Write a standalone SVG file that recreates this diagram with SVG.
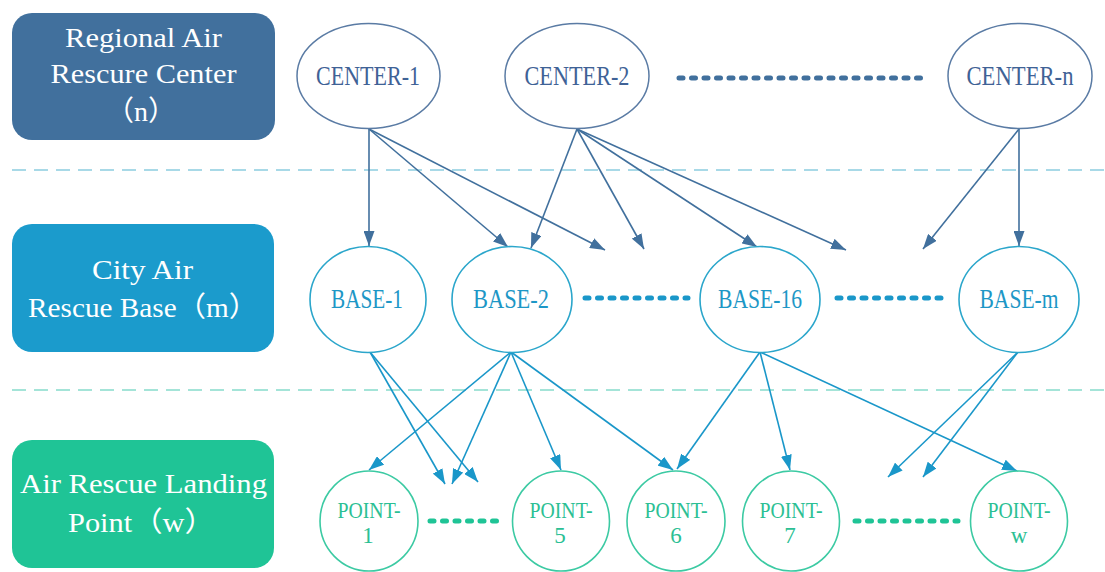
<svg xmlns="http://www.w3.org/2000/svg" width="1105" height="572" viewBox="0 0 1105 572">
  <style>
    text { font-family: "Liberation Serif", "Noto Sans CJK SC", serif; text-anchor: middle; }
    .tier-label { fill: #ffffff; font-size: 28px; }
    .sep-top { stroke: #8ccde0; stroke-width: 1.5; stroke-dasharray: 14 8; fill: none; }
    .sep-bot { stroke: #86dccb; stroke-width: 1.5; stroke-dasharray: 14 8; fill: none; }
    .center ellipse { fill: #ffffff; stroke: #5a7ba4; stroke-width: 1.5; }
    .center text { fill: #3f6296; font-size: 27px; }
    .base ellipse { fill: #ffffff; stroke: #2ba6cb; stroke-width: 1.6; }
    .base text { fill: #1d97c6; font-size: 27px; }
    .point ellipse { fill: #ffffff; stroke: #3ccaa3; stroke-width: 1.6; }
    .point text { fill: #2cbf94; font-size: 23px; }
    .link-top { stroke: #41709d; stroke-width: 1.6; fill: none; marker-end: url(#arrow-top); }
    .link-bot { stroke: #1a97c9; stroke-width: 1.6; fill: none; marker-end: url(#arrow-bot); }
    .dots { stroke-width: 5; stroke-linecap: round; stroke-dasharray: 4 8.5; fill: none; }
  </style>
  <defs>
    <marker id="arrow-top" viewBox="0 0 15 11" refX="15" refY="5.5" markerWidth="15" markerHeight="11" markerUnits="userSpaceOnUse" orient="auto">
      <path d="M0,0 L15,5.5 L0,11 z" fill="#41709d"/>
    </marker>
    <marker id="arrow-bot" viewBox="0 0 15 11" refX="15" refY="5.5" markerWidth="15" markerHeight="11" markerUnits="userSpaceOnUse" orient="auto">
      <path d="M0,0 L15,5.5 L0,11 z" fill="#1a97c9"/>
    </marker>
  </defs>

  <!-- tier separators -->
  <g id="separators">
    <line class="sep-top" x1="12" y1="170" x2="1105" y2="170"/>
    <line class="sep-bot" x1="12" y1="390" x2="1105" y2="390"/>
  </g>

  <!-- tier labels -->
  <g id="tier-center">
    <rect x="12" y="13" width="263" height="127" rx="20" fill="#41709d"/>
    <text class="tier-label" x="143.5" y="47" textLength="157" lengthAdjust="spacingAndGlyphs">Regional Air</text>
    <text class="tier-label" x="143.5" y="83" textLength="186" lengthAdjust="spacingAndGlyphs">Rescure Center</text>
    <text class="tier-label" x="141" y="121">（n）</text>
  </g>
  <g id="tier-base">
    <rect x="12" y="224" width="262" height="128" rx="20" fill="#1b9bcc"/>
    <text class="tier-label" x="142.5" y="279" textLength="101" lengthAdjust="spacingAndGlyphs">City Air</text>
    <text class="tier-label" x="143" y="317" textLength="230" lengthAdjust="spacingAndGlyphs">Rescue Base（m）</text>
  </g>
  <g id="tier-point">
    <rect x="12" y="440" width="262" height="128" rx="20" fill="#1fc496"/>
    <text class="tier-label" x="143.5" y="493" textLength="247" lengthAdjust="spacingAndGlyphs">Air Rescue Landing</text>
    <text class="tier-label" x="141.5" y="532" textLength="147" lengthAdjust="spacingAndGlyphs">Point（w）</text>
  </g>

  <!-- continuation dots -->
  <g id="ellipsis">
    <line class="dots" stroke="#41709d" x1="679" y1="78" x2="922" y2="78"/>
    <line class="dots" stroke="#1a97c9" x1="585" y1="298" x2="688" y2="298"/>
    <line class="dots" stroke="#1a97c9" x1="837" y1="298" x2="948" y2="298"/>
    <line class="dots" stroke="#1fc496" x1="430" y1="521" x2="503" y2="521"/>
    <line class="dots" stroke="#1fc496" x1="855" y1="521" x2="958" y2="521"/>
  </g>

  <!-- connectors -->
  <g id="connectors">
    <line class="link-top" x1="369" y1="129" x2="369" y2="246"/>
    <line class="link-top" x1="369" y1="129" x2="508" y2="247"/>
    <line class="link-top" x1="369" y1="129" x2="605" y2="250"/>
    <line class="link-top" x1="577" y1="129" x2="531" y2="248"/>
    <line class="link-top" x1="577" y1="129" x2="644" y2="249"/>
    <line class="link-top" x1="577" y1="129" x2="757" y2="247"/>
    <line class="link-top" x1="577" y1="129" x2="846" y2="250"/>
    <line class="link-top" x1="1019" y1="129" x2="923" y2="249"/>
    <line class="link-top" x1="1019" y1="129" x2="1019" y2="246"/>

    <line class="link-bot" x1="370" y1="352" x2="445" y2="484"/>
    <line class="link-bot" x1="370" y1="352" x2="478" y2="482"/>
    <line class="link-bot" x1="511" y1="352" x2="369" y2="470"/>
    <line class="link-bot" x1="511" y1="352" x2="452" y2="484"/>
    <line class="link-bot" x1="511" y1="352" x2="561" y2="470"/>
    <line class="link-bot" x1="511" y1="352" x2="673" y2="470"/>
    <line class="link-bot" x1="760" y1="352" x2="677" y2="469"/>
    <line class="link-bot" x1="760" y1="352" x2="790" y2="470"/>
    <line class="link-bot" x1="760" y1="352" x2="1017" y2="471"/>
    <line class="link-bot" x1="1018" y1="352" x2="888" y2="477"/>
    <line class="link-bot" x1="1018" y1="352" x2="923" y2="477"/>
  </g>

  <!-- regional centers -->
  <g id="center-1" class="center">
    <ellipse cx="368.5" cy="76" rx="71.5" ry="52.5"/>
    <text x="368" y="85" textLength="104" lengthAdjust="spacingAndGlyphs">CENTER-1</text>
  </g>
  <g id="center-2" class="center">
    <ellipse cx="577" cy="76" rx="72" ry="52.5"/>
    <text x="577" y="85" textLength="105" lengthAdjust="spacingAndGlyphs">CENTER-2</text>
  </g>
  <g id="center-n" class="center">
    <ellipse cx="1020" cy="76" rx="72" ry="52.5"/>
    <text x="1020" y="85" textLength="107" lengthAdjust="spacingAndGlyphs">CENTER-n</text>
  </g>

  <!-- city bases -->
  <g id="base-1" class="base">
    <ellipse cx="368" cy="299.5" rx="58" ry="53"/>
    <text x="367" y="308" textLength="72" lengthAdjust="spacingAndGlyphs">BASE-1</text>
  </g>
  <g id="base-2" class="base">
    <ellipse cx="512" cy="299.5" rx="60" ry="53"/>
    <text x="511" y="308" textLength="76" lengthAdjust="spacingAndGlyphs">BASE-2</text>
  </g>
  <g id="base-16" class="base">
    <ellipse cx="760" cy="299.5" rx="60" ry="53"/>
    <text x="760" y="308" textLength="84" lengthAdjust="spacingAndGlyphs">BASE-16</text>
  </g>
  <g id="base-m" class="base">
    <ellipse cx="1019" cy="299.5" rx="60" ry="53"/>
    <text x="1019" y="308" textLength="79" lengthAdjust="spacingAndGlyphs">BASE-m</text>
  </g>

  <!-- landing points -->
  <g id="point-1" class="point">
    <ellipse cx="369" cy="521" rx="49" ry="50"/>
    <text x="369" y="518" textLength="63" lengthAdjust="spacingAndGlyphs">POINT-</text>
    <text x="368" y="543">1</text>
  </g>
  <g id="point-5" class="point">
    <ellipse cx="561" cy="521" rx="48.5" ry="50"/>
    <text x="561" y="518" textLength="63" lengthAdjust="spacingAndGlyphs">POINT-</text>
    <text x="560" y="543">5</text>
  </g>
  <g id="point-6" class="point">
    <ellipse cx="676" cy="521" rx="49" ry="50"/>
    <text x="676" y="518" textLength="63" lengthAdjust="spacingAndGlyphs">POINT-</text>
    <text x="676" y="543">6</text>
  </g>
  <g id="point-7" class="point">
    <ellipse cx="791" cy="521" rx="48.5" ry="50"/>
    <text x="791" y="518" textLength="63" lengthAdjust="spacingAndGlyphs">POINT-</text>
    <text x="790" y="543">7</text>
  </g>
  <g id="point-w" class="point">
    <ellipse cx="1019" cy="521" rx="48.5" ry="50"/>
    <text x="1019" y="518" textLength="63" lengthAdjust="spacingAndGlyphs">POINT-</text>
    <text x="1019" y="543">w</text>
  </g>
</svg>
